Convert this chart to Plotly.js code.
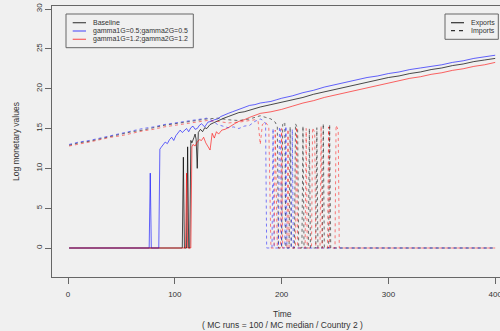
<!DOCTYPE html>
<html>
<head>
<meta charset="utf-8">
<script src="https://cdn.plot.ly/plotly-3.0.1.min.js"></script>
<style>html,body{margin:0;padding:0;background:#f0f0f0;}#chart{width:500px;height:331px;}</style>
</head>
<body>
<div id="chart"></div>
<script>
// ---- Data ----
const scenarioNames = ["Baseline", "gamma1G=0.5;gamma2G=0.5", "gamma1G=1.2;gamma2G=1.2"];
const flowNames = ["Exports", "Imports"];
const xTicks = [0, 100, 200, 300, 400];
const yTicks = [0, 5, 10, 15, 20, 25, 30];

// Exports - Baseline
const expBaseT = [1,107,108,109,111,112,113,114,115,116,118,119,120,121,122,124,126,128,130,133,136,139,142,146,150,155,160,165,170,175,180,190,200,210,220,230,240,250,260,270,280,290,300,310,320,330,340,350,360,370,380,390,400];
const expBaseV = [0,0,11.4,0,0,12.7,0,0,13.5,13.2,13.9,14.3,13.6,10.0,14.5,14.9,14.6,15.1,15.0,15.5,15.7,15.9,16.0,16.3,16.5,16.8,17.0,17.1,17.3,17.5,17.7,18.0,18.3,18.6,18.9,19.3,19.6,19.9,20.2,20.5,20.8,21.1,21.4,21.6,21.9,22.1,22.4,22.6,22.9,23.1,23.4,23.6,23.8];
// Exports - gamma 0.5
const expLowT = [1,76,77,78,85,86,87,89,91,93,95,97,99,101,103,105,107,109,111,113,115,117,119,121,123,125,128,131,134,137,140,143,146,150,154,158,162,166,170,175,180,185,190,195,200,210,220,230,240,250,260,270,280,290,300,310,320,330,340,350,360,370,380,390,400];
const expLowV = [0,0,9.4,0,0,12.4,12.6,12.9,13.3,13.1,13.6,13.9,13.5,14.1,14.4,14.8,14.5,14.7,15.0,14.6,15.1,15.3,14.9,15.0,15.4,15.6,15.2,15.8,15.9,16.1,16.2,16.5,16.7,16.9,17.1,17.3,17.5,17.7,17.9,18.0,18.2,18.3,18.4,18.6,18.8,19.1,19.5,19.8,20.2,20.5,20.8,21.1,21.4,21.6,21.9,22.1,22.4,22.6,22.8,23.0,23.3,23.5,23.8,24.0,24.2];
// Exports - gamma 1.2
const expHighT = [1,110,111,112,115,116,117,119,121,123,125,127,129,131,133,135,137,139,141,144,147,150,153,156,160,165,170,175,180,190,200,210,220,230,240,250,260,270,280,290,300,310,320,330,340,350,360,370,380,390,400];
const expHighV = [0,0,9.4,0,0,12.7,13.0,12.8,13.3,13.6,13.5,13.9,13.2,12.8,12.3,14.4,13.8,14.6,14.3,14.8,14.9,15.1,15.4,15.6,15.9,16.1,16.4,16.7,16.9,17.1,17.4,17.8,18.2,18.5,18.9,19.2,19.5,19.8,20.1,20.4,20.7,21.0,21.3,21.5,21.8,22.0,22.3,22.5,22.8,23.0,23.3];

// Imports - Baseline
const impBaseT = [1,10,20,30,40,50,60,70,80,90,100,110,120,130,140,150,160,170,175,180,185,190,194,196,197,200,201,203,204,207,208,209,212,213,215,216,219,220,221,225,226,227,232,233,234,238,239,240,244,245,246,400];
const impBaseV = [12.9,13.2,13.4,13.7,14.0,14.3,14.6,14.8,15.1,15.4,15.6,15.8,16.0,16.2,16.3,16.1,16.0,16.2,16.4,16.6,16.4,16.2,15.8,15.2,0,0,15.5,15.8,0,0,15.2,0,0,15.6,15.0,0,0,15.3,0,0,15.0,0,0,15.1,0,0,15.6,0,0,15.5,0,0];
// Imports - gamma 0.5
const impLowT = [1,10,20,30,40,50,60,70,80,90,100,110,120,130,135,140,145,150,155,160,165,170,175,180,183,185,186,191,192,193,197,198,199,200,203,204,205,209,210,211,400];
const impLowV = [13.0,13.3,13.5,13.8,14.1,14.4,14.7,15.0,15.2,15.5,15.7,15.9,16.1,16.3,16.0,15.5,15.3,15.1,15.2,15.0,15.3,15.4,15.9,16.2,16.0,15.6,0,0,15.0,0,0,15.2,14.8,0,0,15.3,0,0,14.9,0,0];
// Imports - gamma 1.2
const impHighT = [1,10,20,30,40,50,60,70,80,90,100,110,120,130,140,150,160,170,175,178,180,182,185,188,190,193,194,196,199,200,201,205,206,207,213,214,215,222,223,224,228,229,231,232,236,237,238,243,244,245,250,251,253,254,400];
const impHighV = [12.8,13.0,13.3,13.6,13.9,14.1,14.4,14.7,14.9,15.2,15.4,15.6,15.8,16.0,15.9,15.7,15.8,16.0,16.1,15.9,13.0,15.5,15.8,15.2,0,0,14.8,0,0,15.0,0,0,14.9,0,0,15.2,0,0,15.0,0,0,15.1,14.5,0,0,15.3,0,0,15.2,0,0,15.4,14.8,0,0];

// ---- Styling ----
const colors = ["rgba(0,0,0,0.7)", "rgba(0,0,255,0.6)", "rgba(255,0,0,0.6)"];
const dashColors = ["rgba(0,0,0,0.55)", "rgba(0,0,255,0.5)", "rgba(255,0,0,0.5)"];
const dashStyle = "3px,3px";
const fontFam = "Liberation Sans, Arial, Helvetica, sans-serif";
const txtColor = "#333";
const axColor = "#666";

const W = 500, H = 331;
const mL = 52, mR = 0, mT = 6, mB = 54;
const pw = W - mL - mR, ph = H - mT - mB;
const px2x = p => (p - mL) / pw;
const py2y = p => (H - mB - p) / ph;

const expData = [[expBaseT, expBaseV], [expLowT, expLowV], [expHighT, expHighV]];
const impData = [[impBaseT, impBaseV], [impLowT, impLowV], [impHighT, impHighV]];

const traces = [];
for (let i = 0; i < 3; i++) {
  traces.push({x: expData[i][0], y: expData[i][1], type: "scatter", mode: "lines",
    name: scenarioNames[i] + " " + flowNames[0], showlegend: false,
    line: {color: colors[i], width: 1}});
  traces.push({x: impData[i][0], y: impData[i][1], type: "scatter", mode: "lines",
    name: scenarioNames[i] + " " + flowNames[1], showlegend: false,
    line: {color: dashColors[i], width: 1, dash: dashStyle}});
}

const shapes = [];
const annotations = [];

// Legend 1 (scenarios)
shapes.push({type: "rect", xref: "paper", yref: "paper",
  x0: px2x(66), x1: px2x(193.3), y0: py2y(47.7), y1: py2y(14),
  line: {color: axColor, width: 1}, fillcolor: "rgba(0,0,0,0)"});
const l1Rows = [22.7, 31, 39.3];
for (let i = 0; i < 3; i++) {
  shapes.push({type: "line", xref: "paper", yref: "paper",
    x0: px2x(72.7), x1: px2x(86), y0: py2y(l1Rows[i]), y1: py2y(l1Rows[i]),
    line: {color: colors[i], width: 1.2}});
  annotations.push({xref: "paper", yref: "paper", x: px2x(91), y: py2y(l1Rows[i]),
    xanchor: "left", yanchor: "middle", showarrow: false, text: scenarioNames[i],
    font: {family: fontFam, size: 7, color: txtColor}});
}
// Legend 2 (flows)
shapes.push({type: "rect", xref: "paper", yref: "paper",
  x0: px2x(445), x1: px2x(498.3), y0: py2y(39.3), y1: py2y(14),
  line: {color: axColor, width: 1}, fillcolor: "rgba(0,0,0,0)"});
const l2Rows = [22.7, 30.7];
for (let i = 0; i < 2; i++) {
  shapes.push({type: "line", xref: "paper", yref: "paper",
    x0: px2x(451), x1: px2x(464), y0: py2y(l2Rows[i]), y1: py2y(l2Rows[i]),
    line: {color: "rgba(0,0,0,0.8)", width: 1.2, dash: i === 0 ? "solid" : "4px,4px"}});
  annotations.push({xref: "paper", yref: "paper", x: px2x(469), y: py2y(l2Rows[i]),
    xanchor: "left", yanchor: "middle", showarrow: false, text: flowNames[i],
    font: {family: fontFam, size: 7, color: txtColor}});
}

// Axis titles
annotations.push({xref: "paper", yref: "paper", x: px2x(282), y: py2y(314),
  xanchor: "center", yanchor: "middle", showarrow: false, text: "Time",
  font: {family: fontFam, size: 8.5, color: txtColor}});
annotations.push({xref: "paper", yref: "paper", x: px2x(282), y: py2y(324.5),
  xanchor: "center", yanchor: "middle", showarrow: false,
  text: "( MC runs = 100 / MC median / Country 2 )",
  font: {family: fontFam, size: 8.5, color: txtColor}});
annotations.push({xref: "paper", yref: "paper", x: px2x(16), y: py2y(142),
  xanchor: "center", yanchor: "middle", showarrow: false, textangle: -90,
  text: "Log monetary values",
  font: {family: fontFam, size: 8.5, color: txtColor}});

const layout = {
  width: W, height: H,
  margin: {l: mL, r: mR, t: mT, b: mB, pad: 0},
  paper_bgcolor: "#f0f0f0", plot_bgcolor: "#f0f0f0",
  showlegend: false,
  xaxis: {range: [-15, 404.5], tickvals: xTicks, ticktext: xTicks.map(String),
    ticks: "outside", ticklen: 6, tickwidth: 1, tickcolor: axColor,
    ticklabeloverflow: "allow", ticklabelstandoff: 3,
    showline: true, linecolor: axColor, linewidth: 1, mirror: true,
    showgrid: false, zeroline: false,
    tickfont: {family: fontFam, size: 8, color: txtColor}},
  yaxis: {range: [-3.64, 30.38], tickvals: yTicks, ticktext: yTicks.map(String),
    ticks: "outside", ticklen: 6, tickwidth: 1, tickcolor: axColor, tickangle: -90,
    showline: true, linecolor: axColor, linewidth: 1, mirror: false,
    showgrid: false, zeroline: false,
    tickfont: {family: fontFam, size: 8, color: txtColor}},
  shapes: shapes,
  annotations: annotations
};

Plotly.newPlot("chart", traces, layout, {staticPlot: true, displayModeBar: false});
</script>
</body>
</html>
